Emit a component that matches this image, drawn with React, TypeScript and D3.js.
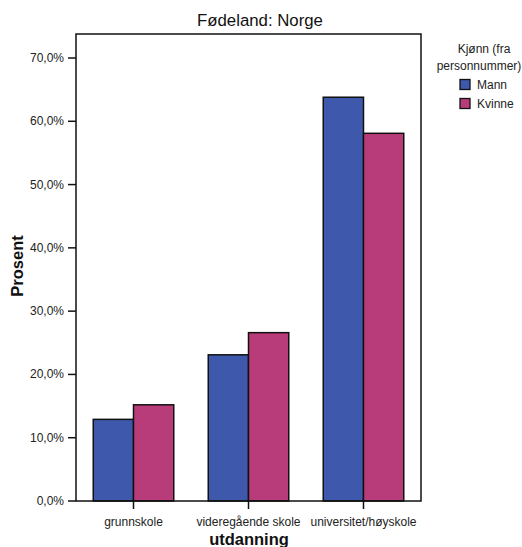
import React from "react";
import * as d3 from "d3";

const categories = ["grunnskole", "videregående skole", "universitet/høyskole"];
const seriesNames = ["Mann", "Kvinne"];
const mannValues = [12.9, 23.1, 63.8];
const kvinneValues = [15.2, 26.6, 58.1];
const yTicks = [0, 10, 20, 30, 40, 50, 60, 70];
const colors = ["#3e58ac", "#b93c7a"];

const W = 522, H = 547;
const left = 76, right = 421, top = 34, bottom = 501;

export default function App() {
  const x = d3.scaleBand<string>().domain(categories).range([left, right]).paddingInner(0.3).paddingOuter(0.15);
  const xs = d3.scaleBand<string>().domain(seriesNames).range([0, x.bandwidth()]);
  const y = d3.scaleLinear().domain([0, 70]).range([bottom, bottom - 443]);
  const series = [mannValues, kvinneValues];
  const font = "Liberation Sans, Arial, sans-serif";
  return (
    <svg width={W} height={H} style={{ position: "absolute", left: 0, top: 0 }} fontFamily={font}>
      <rect x={0} y={0} width={W} height={H} fill="white" />
      <text x={260} y={26} textAnchor="middle" fontSize={16.8} fill="#111">Fødeland: Norge</text>
      {categories.map((c, i) =>
        series.map((vals, s) => (
          <rect key={c + s} x={(x(c) as number) + (xs(seriesNames[s]) as number)} y={y(vals[i])}
            width={xs.bandwidth()} height={bottom - y(vals[i])} fill={colors[s]} stroke="#111" strokeWidth={1.5} />
        ))
      )}
      <rect x={left} y={top} width={right - left} height={bottom - top} fill="none" stroke="#111" strokeWidth={1.5} />
      {yTicks.map((t) => (
        <g key={t}>
          <line x1={left - 8} x2={left} y1={y(t)} y2={y(t)} stroke="#111" strokeWidth={1.5} />
          <text x={left - 12} y={y(t) + 4} textAnchor="end" fontSize={12} fill="#222">{t.toFixed(1).replace(".", ",")}%</text>
        </g>
      ))}
      {categories.map((c) => {
        const cx = (x(c) as number) + x.bandwidth() / 2;
        return (
          <g key={c}>
            <line x1={cx} x2={cx} y1={bottom} y2={bottom + 8} stroke="#111" strokeWidth={1.5} />
            <text x={cx} y={526} textAnchor="middle" fontSize={12} fill="#222">{c}</text>
          </g>
        );
      })}
      <text x={249} y={545} textAnchor="middle" fontSize={16.5} fontWeight="bold" fill="#111">utdanning</text>
      <text transform={`translate(23,${266}) rotate(-90)`} textAnchor="middle" fontSize={16.5} fontWeight="bold" fill="#111">Prosent</text>
      <text x={484} y={53} textAnchor="middle" fontSize={12} fill="#222">Kjønn (fra</text>
      <text x={479} y={70} textAnchor="middle" fontSize={12} fill="#222">personnummer)</text>
      {seriesNames.map((n, i) => (
        <g key={n}>
          <rect x={460} y={79.5 + i * 19} width={10} height={10} fill={colors[i]} stroke="#111" strokeWidth={1.3} />
          <text x={477} y={89 + i * 19} fontSize={12} fill="#222">{n}</text>
        </g>
      ))}
    </svg>
  );
}
